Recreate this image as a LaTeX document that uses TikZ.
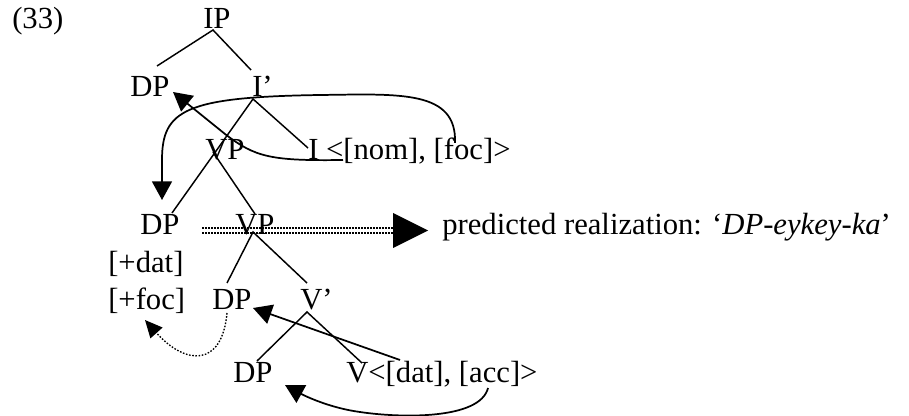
\documentclass[tikz,border=0pt]{standalone}
\usepackage{fontspec}
\setmainfont{Liberation Serif}
\usetikzlibrary{arrows.meta}
\begin{document}
\begin{tikzpicture}[x=0.75pt,y=-0.75pt,
  lbl/.style={anchor=base west, inner sep=0pt, font=\fontsize{23}{27}\selectfont},
  edge/.style={line width=1.1pt},
  mover/.style={line width=1.3pt},
  tipA/.style={-{Triangle[length=14pt,width=15pt]}},
  tipS/.style={-{Triangle[length=13pt,width=12pt]}},
  dotrow/.style={line width=1.5pt, dash pattern=on 1.5pt off 0.75pt}]
\useasboundingbox (0,0) rectangle (909,416);

% labels
\node[lbl] (ex)   at (12,28.5)  {(33)};
\node[lbl] (IP)   at (203,28.5) {IP};
\node[lbl] (DPa)  at (130,97)   {DP};
\node[lbl] (Ib)   at (252,97)   {I’};
\node[lbl] (VPa)  at (205,160)  {VP};
\node[lbl] (Iinf) at (308,160)  {I <[nom], [foc]>};
\node[lbl] (DPb)  at (140,235)  {DP};
\node[lbl] (VPb)  at (235,235)  {VP};
\node[lbl] (pred) at (442,235)  {predicted realization: ‘\textit{DP-eykey-ka}’};
\node[lbl] (dat)  at (108,273)  {[+dat]};
\node[lbl] (foc)  at (108,310)  {[+foc]};
\node[lbl] (DPc)  at (212,310)  {DP};
\node[lbl] (Vb)   at (300,310)  {V’};
\node[lbl] (DPd)  at (233,382)  {DP};
\node[lbl] (Vinf) at (346,382)  {V<[dat], [acc]>};

% tree attachment points
\coordinate (ipB)  at (213,30);
\coordinate (dpaT) at (157,66);
\coordinate (ibT)  at (251,70);
\coordinate (ibB)  at (253,99);
\coordinate (dpbT) at (172,213);
\coordinate (iT)   at (308,148);
\coordinate (vpaB) at (213,152);
\coordinate (vpbT) at (255,214);
\coordinate (vpbB) at (253,232);
\coordinate (dpcT) at (227,283);
\coordinate (vbT)  at (307,283);
\coordinate (vbB)  at (307,312);
\coordinate (dpdT) at (257,361);
\coordinate (vT)   at (362,363);

\draw[edge] (dpaT) -- (ipB) -- (ibT);
\draw[edge] (dpbT) -- (ibB) -- (iT);
\draw[edge] (vpaB) -- (vpbT);
\draw[edge] (dpcT) -- (vpbB) -- (vbT);
\draw[edge] (dpdT) -- (vbB) -- (vT);

% movement arrows
\coordinate (focS)  at (455,143);
\coordinate (dpbA)  at (162,200);
\draw[mover,tipA] (focS) .. controls (457,90) and (400,94) .. (320,95)
   .. controls (185,97) and (162,110) .. (162,160) -- (dpbA);

\coordinate (nomS) at (343,160);
\coordinate (dpaA) at (173,92);
\draw[mover,tipA] (nomS) .. controls (270,161) and (255,157) .. (225,134) -- (dpaA);

\coordinate (datS) at (400,360);
\coordinate (dpcA) at (253,308);
\draw[mover,tipA] (datS) -- (dpcA);

\coordinate (accS) at (488,388);
\coordinate (dpdA) at (285,385);
\draw[mover,tipA] (accS) .. controls (480,420) and (400,418) .. (360,412)
   .. controls (330,408) and (305,396) .. (dpdA);

\coordinate (dpcB) at (227,313);
\coordinate (focA) at (145,320);
\draw[line width=1pt, dash pattern=on 1.2pt off 1.2pt, tipS] (dpcB) .. controls (222,368) and (185,365) .. (focA);

% predicted realization arrow
\coordinate (d1s) at (202,228);
\coordinate (d1e) at (394,228);
\coordinate (d2s) at (202,233.5);
\coordinate (d2e) at (394,233.5);
\draw[dotrow] (d1s) -- (d1e);
\draw[dotrow] (d2s) -- (d2e);
\fill (393,213) -- (428,230.5) -- (393,248) -- cycle;
\end{tikzpicture}
\end{document}
